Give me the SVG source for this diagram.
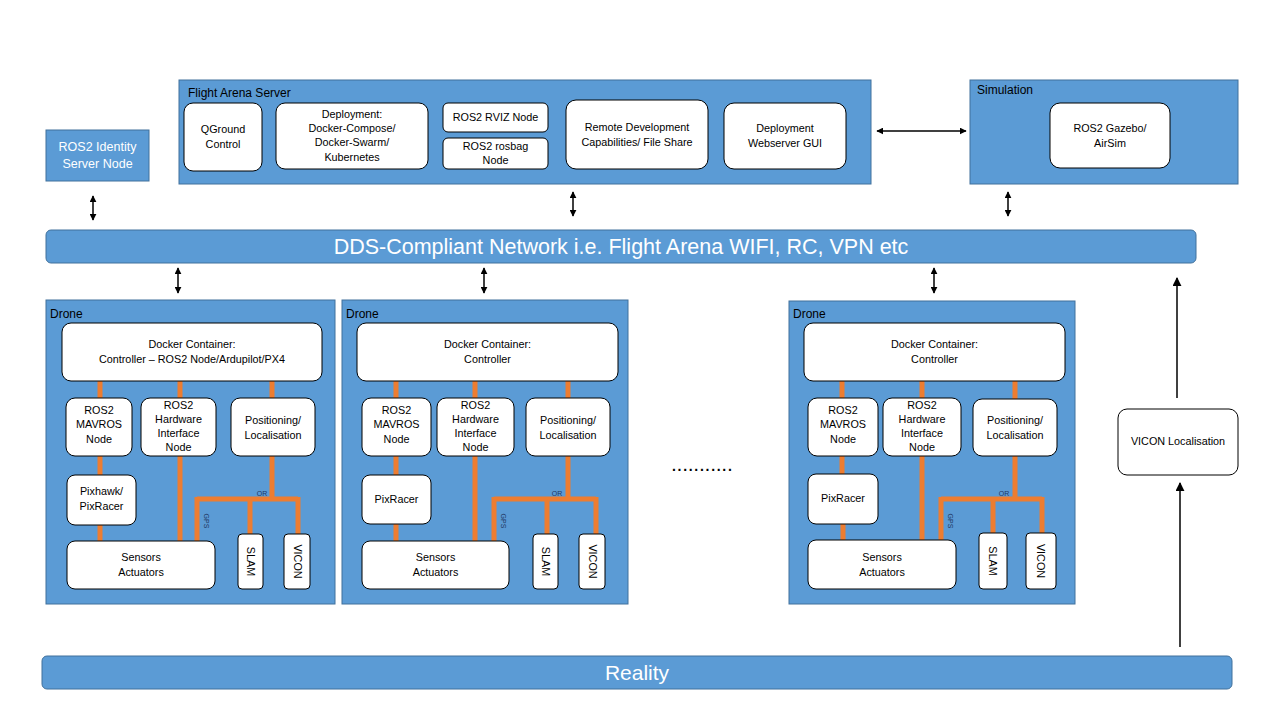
<svg xmlns="http://www.w3.org/2000/svg" width="1280" height="720" viewBox="0 0 1280 720">
<style>
.bg{fill:#ffffff}
.blue{fill:#5B9BD5;stroke:#41719C;stroke-width:1}
.box{fill:#ffffff;stroke:#000000;stroke-width:1}
.t{font-family:"Liberation Sans",Arial,sans-serif;font-size:10.8px;fill:#000000;text-anchor:middle}
.ttl{font-family:"Liberation Sans",Arial,sans-serif;font-size:12px;fill:#000000}
.wt{font-family:"Liberation Sans",Arial,sans-serif;fill:#ffffff;text-anchor:middle}
.sm{font-family:"Liberation Sans",Arial,sans-serif;font-size:7px;fill:#1F3864;text-anchor:middle}
.or{stroke:#ED7D31;stroke-width:5;fill:none}
.ar{stroke:#000000;stroke-width:1.5;fill:none}
</style>
<defs>
<marker id="ah" viewBox="0 0 10 10" refX="9" refY="5" markerWidth="7" markerHeight="7" markerUnits="userSpaceOnUse" orient="auto-start-reverse">
<path d="M0,0 L10,5 L0,10 z" fill="#000000"/>
</marker>
<marker id="ahb" viewBox="0 0 10 10" refX="9" refY="5" markerWidth="9" markerHeight="9" markerUnits="userSpaceOnUse" orient="auto-start-reverse">
<path d="M0,0 L10,5 L0,10 z" fill="#000000"/>
</marker>
</defs>
<rect class="bg" x="0" y="0" width="1280" height="720"/>

<g id="identity-server">
<rect class="blue" x="46" y="130" width="103" height="51"/>
<text class="wt" font-size="12.5" x="97.5" y="151">ROS2 Identity</text>
<text class="wt" font-size="12.5" x="97.5" y="168">Server Node</text>
</g>

<g id="flight-arena-server">
<rect class="blue" x="179" y="80" width="692" height="104"/>
<text class="ttl" x="188" y="97">Flight Arena Server</text>
</g>
<g id="qground">
<rect class="box" x="184" y="103" width="78" height="68" rx="9"/>
<text class="t" x="223" y="133">QGround</text>
<text class="t" x="223" y="148">Control</text>
</g>
<g id="deployment">
<rect class="box" x="276" y="103" width="152" height="66" rx="9"/>
<text class="t" x="352" y="118">Deployment:</text>
<text class="t" x="352" y="132">Docker-Compose/</text>
<text class="t" x="352" y="146">Docker-Swarm/</text>
<text class="t" x="352" y="161">Kubernetes</text>
</g>
<g id="rviz">
<rect class="box" x="443" y="103" width="105" height="29" rx="5"/>
<text class="t" x="495.5" y="121">ROS2 RVIZ Node</text>
</g>
<g id="rosbag">
<rect class="box" x="443" y="138" width="105" height="31" rx="5"/>
<text class="t" x="495.5" y="150">ROS2 rosbag</text>
<text class="t" x="495.5" y="164">Node</text>
</g>
<g id="remote-dev">
<rect class="box" x="566" y="100" width="142" height="69" rx="10"/>
<text class="t" x="637" y="131">Remote Development</text>
<text class="t" x="637" y="146">Capabilities/ File Share</text>
</g>
<g id="webserver">
<rect class="box" x="724" y="103" width="122" height="66" rx="10"/>
<text class="t" x="785" y="132">Deployment</text>
<text class="t" x="785" y="147">Webserver GUI</text>
</g>

<g id="simulation">
<rect class="blue" x="970" y="80" width="268" height="104"/>
<text class="ttl" x="977" y="94">Simulation</text>
</g>
<g id="gazebo">
<rect class="box" x="1050" y="103" width="120" height="65" rx="10"/>
<text class="t" x="1110" y="132">ROS2 Gazebo/</text>
<text class="t" x="1110" y="147">AirSim</text>
</g>

<g id="dds-network">
<rect class="blue" x="46" y="230" width="1150" height="33" rx="5"/>
<text class="wt" font-size="21.5" x="621" y="254">DDS-Compliant Network i.e. Flight Arena WIFI, RC, VPN etc</text>
</g>

<!-- Drone 1 -->
<g id="drone1">
<rect class="blue" x="46" y="300" width="289" height="304"/>
<text class="ttl" x="50" y="318">Drone</text>
</g>
<g id="drone1-links">
<path class="or" d="M100,381 V398 M180,381 V398 M272,381 V398 M100,456 V475 M100,525 V541 M180,456 V541 M272,456 V499 M197,499 H298 M197,497 V541 M250,497 V534 M298,497 V534"/>
</g>
<g id="drone1-controller">
<rect class="box" x="62" y="323" width="260" height="58" rx="9"/>
<text class="t" x="192" y="348">Docker Container:</text>
<text class="t" x="192" y="363">Controller – ROS2 Node/Ardupilot/PX4</text>
</g>
<g id="drone1-mavros">
<rect class="box" x="66" y="398" width="66" height="58" rx="9"/>
<text class="t" x="99" y="414">ROS2</text>
<text class="t" x="99" y="428">MAVROS</text>
<text class="t" x="99" y="443">Node</text>
</g>
<g id="drone1-hw">
<rect class="box" x="141" y="398" width="75" height="58" rx="9"/>
<text class="t" x="178.5" y="409">ROS2</text>
<text class="t" x="178.5" y="423">Hardware</text>
<text class="t" x="178.5" y="437">Interface</text>
<text class="t" x="178.5" y="451">Node</text>
</g>
<g id="drone1-pos">
<rect class="box" x="231" y="398" width="84" height="58" rx="9"/>
<text class="t" x="273" y="424">Positioning/</text>
<text class="t" x="273" y="439">Localisation</text>
</g>
<g id="drone1-fc">
<rect class="box" x="67" y="475" width="69" height="50" rx="8"/>
<text class="t" x="101.5" y="495">Pixhawk/</text>
<text class="t" x="101.5" y="510">PixRacer</text>
</g>
<g id="drone1-sensors">
<rect class="box" x="67" y="541" width="148" height="48" rx="8"/>
<text class="t" x="141" y="561">Sensors</text>
<text class="t" x="141" y="576">Actuators</text>
</g>
<g id="drone1-slam">
<rect class="box" x="238" y="534" width="25" height="55" rx="4"/>
<text class="t" transform="translate(246.5,561.5) rotate(90)" x="0" y="0">SLAM</text>
</g>
<g id="drone1-vicon">
<rect class="box" x="284" y="534" width="26" height="55" rx="4"/>
<text class="t" transform="translate(293.5,561.5) rotate(90)" x="0" y="0">VICON</text>
</g>
<text class="sm" x="262" y="496">OR</text>
<text class="sm" transform="translate(204,521) rotate(90)" x="0" y="0">GPS</text>

<!-- Drone 2 -->
<g id="drone2">
<rect class="blue" x="342" y="300" width="286" height="304"/>
<text class="ttl" x="346" y="318">Drone</text>
</g>
<g id="drone2-links">
<path class="or" d="M396,381 V398 M475,381 V398 M568,381 V398 M396,456 V475 M396,524 V541 M475,456 V541 M568,456 V499 M494,499 H596 M494,497 V541 M547,497 V534 M596,497 V534"/>
</g>
<g id="drone2-controller">
<rect class="box" x="357" y="323" width="261" height="58" rx="9"/>
<text class="t" x="487.5" y="348">Docker Container:</text>
<text class="t" x="487.5" y="363">Controller</text>
</g>
<g id="drone2-mavros">
<rect class="box" x="362" y="398" width="69" height="58" rx="9"/>
<text class="t" x="396.5" y="414">ROS2</text>
<text class="t" x="396.5" y="428">MAVROS</text>
<text class="t" x="396.5" y="443">Node</text>
</g>
<g id="drone2-hw">
<rect class="box" x="437" y="398" width="77" height="58" rx="9"/>
<text class="t" x="475.5" y="409">ROS2</text>
<text class="t" x="475.5" y="423">Hardware</text>
<text class="t" x="475.5" y="437">Interface</text>
<text class="t" x="475.5" y="451">Node</text>
</g>
<g id="drone2-pos">
<rect class="box" x="526" y="398" width="84" height="58" rx="9"/>
<text class="t" x="568" y="424">Positioning/</text>
<text class="t" x="568" y="439">Localisation</text>
</g>
<g id="drone2-fc">
<rect class="box" x="362" y="475" width="69" height="49" rx="8"/>
<text class="t" x="396.5" y="503">PixRacer</text>
</g>
<g id="drone2-sensors">
<rect class="box" x="362" y="541" width="147" height="48" rx="8"/>
<text class="t" x="435.5" y="561">Sensors</text>
<text class="t" x="435.5" y="576">Actuators</text>
</g>
<g id="drone2-slam">
<rect class="box" x="533" y="534" width="25" height="55" rx="4"/>
<text class="t" transform="translate(541.5,561.5) rotate(90)" x="0" y="0">SLAM</text>
</g>
<g id="drone2-vicon">
<rect class="box" x="579" y="534" width="26" height="55" rx="4"/>
<text class="t" transform="translate(588.5,561.5) rotate(90)" x="0" y="0">VICON</text>
</g>
<text class="sm" x="557" y="496">OR</text>
<text class="sm" transform="translate(501,521) rotate(90)" x="0" y="0">GPS</text>

<!-- Ellipsis -->
<text font-family="Liberation Sans, Arial, sans-serif" font-size="14" font-weight="bold" fill="#000000" x="672" y="471" letter-spacing="1.7">...........</text>

<!-- Drone 3 -->
<g id="drone3">
<rect class="blue" x="789" y="301" width="286" height="303"/>
<text class="ttl" x="793" y="318">Drone</text>
</g>
<g id="drone3-links">
<path class="or" d="M842,381 V398 M922,381 V398 M1015,381 V399 M842,456 V474 M843,524 V540 M922,456 V540 M1015,456 V499 M941,499 H1042 M941,497 V540 M993,497 V533 M1042,497 V533"/>
</g>
<g id="drone3-controller">
<rect class="box" x="804" y="323" width="261" height="58" rx="9"/>
<text class="t" x="934.5" y="348">Docker Container:</text>
<text class="t" x="934.5" y="363">Controller</text>
</g>
<g id="drone3-mavros">
<rect class="box" x="808" y="398" width="70" height="58" rx="9"/>
<text class="t" x="843" y="414">ROS2</text>
<text class="t" x="843" y="428">MAVROS</text>
<text class="t" x="843" y="443">Node</text>
</g>
<g id="drone3-hw">
<rect class="box" x="883" y="398" width="78" height="58" rx="9"/>
<text class="t" x="922" y="409">ROS2</text>
<text class="t" x="922" y="423">Hardware</text>
<text class="t" x="922" y="437">Interface</text>
<text class="t" x="922" y="451">Node</text>
</g>
<g id="drone3-pos">
<rect class="box" x="973" y="399" width="84" height="57" rx="9"/>
<text class="t" x="1015" y="424">Positioning/</text>
<text class="t" x="1015" y="439">Localisation</text>
</g>
<g id="drone3-fc">
<rect class="box" x="808" y="474" width="70" height="50" rx="8"/>
<text class="t" x="843" y="502">PixRacer</text>
</g>
<g id="drone3-sensors">
<rect class="box" x="808" y="540" width="148" height="49" rx="8"/>
<text class="t" x="882" y="561">Sensors</text>
<text class="t" x="882" y="576">Actuators</text>
</g>
<g id="drone3-slam">
<rect class="box" x="979" y="533" width="28" height="56" rx="4"/>
<text class="t" transform="translate(989,561) rotate(90)" x="0" y="0">SLAM</text>
</g>
<g id="drone3-vicon">
<rect class="box" x="1026" y="533" width="30" height="56" rx="4"/>
<text class="t" transform="translate(1037,561) rotate(90)" x="0" y="0">VICON</text>
</g>
<text class="sm" x="1004" y="496">OR</text>
<text class="sm" transform="translate(948,521) rotate(90)" x="0" y="0">GPS</text>

<g id="vicon-localisation">
<rect class="box" x="1118" y="409" width="120" height="66" rx="9"/>
<text class="t" x="1178" y="445">VICON Localisation</text>
</g>

<g id="reality">
<rect class="blue" x="42" y="656" width="1190" height="33" rx="5"/>
<text class="wt" font-size="21" x="637" y="680">Reality</text>
</g>

<g id="connectors">
<line class="ar" x1="877" y1="131" x2="966" y2="131" marker-start="url(#ah)" marker-end="url(#ah)"/>
<line class="ar" x1="93" y1="196" x2="93" y2="220" marker-start="url(#ah)" marker-end="url(#ah)"/>
<line class="ar" x1="573" y1="192" x2="573" y2="216" marker-start="url(#ah)" marker-end="url(#ah)"/>
<line class="ar" x1="1008" y1="192" x2="1008" y2="216" marker-start="url(#ah)" marker-end="url(#ah)"/>
<line class="ar" x1="178" y1="268" x2="178" y2="293" marker-start="url(#ah)" marker-end="url(#ah)"/>
<line class="ar" x1="484" y1="268" x2="484" y2="293" marker-start="url(#ah)" marker-end="url(#ah)"/>
<line class="ar" x1="934" y1="268" x2="934" y2="293" marker-start="url(#ah)" marker-end="url(#ah)"/>
<line class="ar" x1="1177" y1="398" x2="1177" y2="278" stroke-width="2" marker-end="url(#ahb)"/>
<line class="ar" x1="1180" y1="647" x2="1180" y2="483" stroke-width="2" marker-end="url(#ahb)"/>
</g>
</svg>
